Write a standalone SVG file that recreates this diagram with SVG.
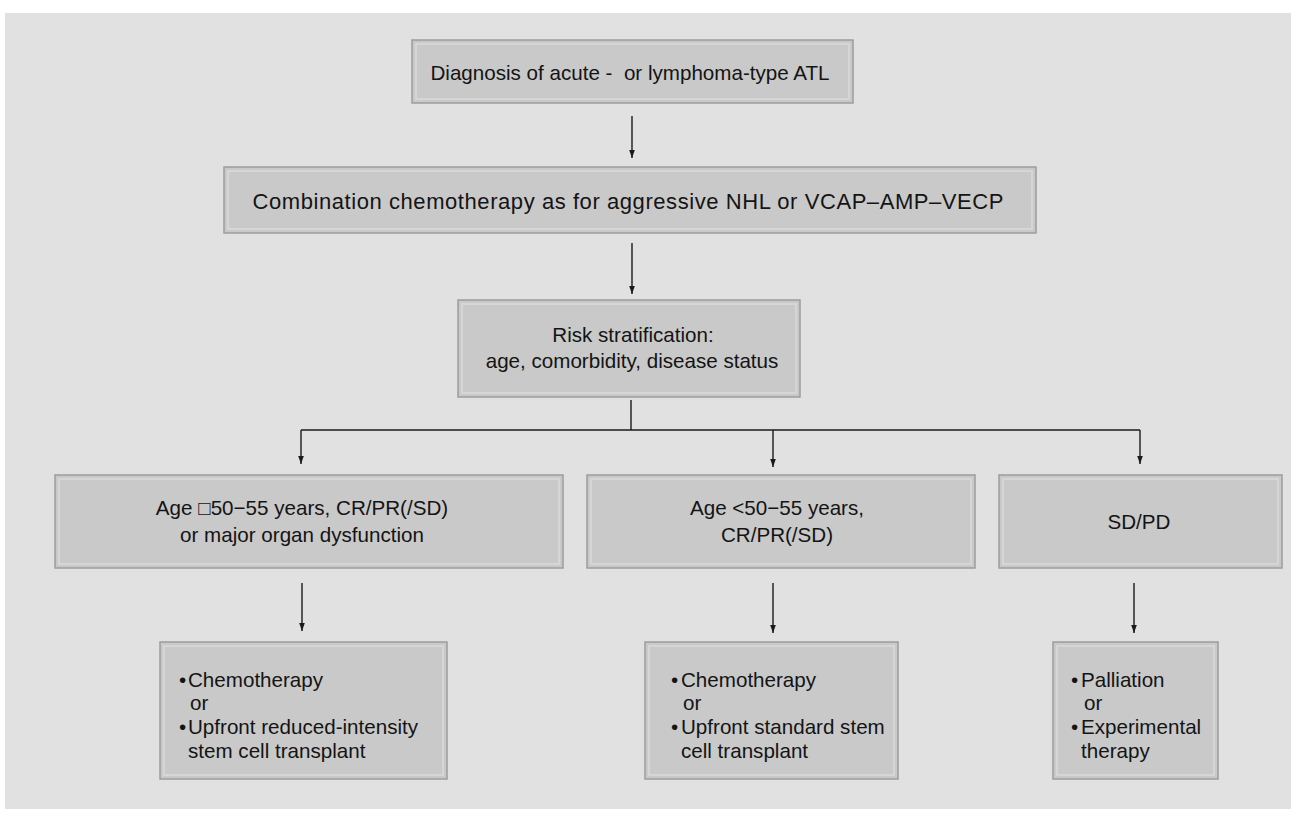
<svg xmlns="http://www.w3.org/2000/svg" width="1293" height="815" viewBox="0 0 1293 815">
  <style>
    .box { fill: #c9c9c9; stroke: #9c9c9c; stroke-width: 1.5; }
    .bevel { fill: none; stroke: #d6d6d6; stroke-width: 2; }
    .t { font-family: "Liberation Sans", Arial, Helvetica, sans-serif; font-size: 20.6px; fill: #141414; }
    .c { text-anchor: middle; }
    .conn { stroke: #1a1a1a; stroke-width: 1.4; fill: none; }
  </style>
  <defs>
    <marker id="arr" viewBox="0 0 10 10" refX="10" refY="5" markerWidth="8" markerHeight="8" markerUnits="userSpaceOnUse" orient="auto">
      <path d="M0,1.5 L10,5 L0,8.5 Z" fill="#1a1a1a"/>
    </marker>
  </defs>
  <rect x="0" y="0" width="1293" height="815" fill="#ffffff"/>
  <rect x="5" y="13" width="1286" height="796" fill="#e1e1e1"/>

  <g id="connectors">
    <line class="conn" x1="632" y1="116" x2="632" y2="158" marker-end="url(#arr)"/>
    <line class="conn" x1="632" y1="243" x2="632" y2="294" marker-end="url(#arr)"/>
    <polyline class="conn" points="631,400 631,430"/>
    <polyline class="conn" points="301,430 1140,430"/>
    <line class="conn" x1="301" y1="430" x2="301" y2="464" marker-end="url(#arr)"/>
    <line class="conn" x1="773" y1="430" x2="773" y2="467" marker-end="url(#arr)"/>
    <line class="conn" x1="1140" y1="430" x2="1140" y2="464" marker-end="url(#arr)"/>
    <line class="conn" x1="302" y1="583" x2="302" y2="631" marker-end="url(#arr)"/>
    <line class="conn" x1="773" y1="583" x2="773" y2="633" marker-end="url(#arr)"/>
    <line class="conn" x1="1134" y1="583" x2="1134" y2="633" marker-end="url(#arr)"/>
  </g>

  <g id="n1">
    <rect class="box" x="412" y="40" width="441" height="63"/>
    <rect class="bevel" x="416" y="44" width="433" height="55"/>
    <text class="t c" x="630" y="80">Diagnosis of acute -&#160; or lymphoma-type ATL</text>
  </g>

  <g id="n2">
    <rect class="box" x="224" y="167" width="812" height="66"/>
    <rect class="bevel" x="228" y="171" width="804" height="58"/>
    <text class="t c" x="628" y="209" style="font-size:22px" textLength="751" lengthAdjust="spacing">Combination chemotherapy as for aggressive NHL or VCAP–AMP–VECP</text>
  </g>

  <g id="n3">
    <rect class="box" x="458" y="300" width="342" height="97"/>
    <rect class="bevel" x="462" y="304" width="334" height="89"/>
    <text class="t c" x="633" y="342">Risk stratification:</text>
    <text class="t c" x="632" y="368">age, comorbidity, disease status</text>
  </g>

  <g id="n4a">
    <rect class="box" x="55" y="475" width="508" height="93"/>
    <rect class="bevel" x="59" y="479" width="500" height="85"/>
    <text class="t c" x="302" y="515">Age □50−55 years, CR/PR(/SD)</text>
    <text class="t c" x="302" y="542">or major organ dysfunction</text>
  </g>

  <g id="n4b">
    <rect class="box" x="587" y="475" width="388" height="93"/>
    <rect class="bevel" x="591" y="479" width="380" height="85"/>
    <text class="t c" x="777" y="515">Age &lt;50−55 years,</text>
    <text class="t c" x="777" y="542">CR/PR(/SD)</text>
  </g>

  <g id="n4c">
    <rect class="box" x="999" y="475" width="283" height="93"/>
    <rect class="bevel" x="1003" y="479" width="275" height="85"/>
    <text class="t c" x="1139" y="529">SD/PD</text>
  </g>

  <g id="n5a">
    <rect class="box" x="160" y="642" width="287" height="137"/>
    <rect class="bevel" x="164" y="646" width="279" height="129"/>
    <text class="t" x="179" y="687">•</text>
    <text class="t" x="188" y="687">Chemotherapy</text>
    <text class="t" x="190" y="710">or</text>
    <text class="t" x="179" y="734">•</text>
    <text class="t" x="188" y="734">Upfront reduced-intensity</text>
    <text class="t" x="188" y="758">stem cell transplant</text>
  </g>

  <g id="n5b">
    <rect class="box" x="645" y="642" width="253" height="137"/>
    <rect class="bevel" x="649" y="646" width="245" height="129"/>
    <text class="t" x="671" y="687">•</text>
    <text class="t" x="681" y="687">Chemotherapy</text>
    <text class="t" x="683" y="710">or</text>
    <text class="t" x="671" y="734">•</text>
    <text class="t" x="681" y="734">Upfront standard stem</text>
    <text class="t" x="681" y="758">cell transplant</text>
  </g>

  <g id="n5c">
    <rect class="box" x="1053" y="642" width="165" height="137"/>
    <rect class="bevel" x="1057" y="646" width="157" height="129"/>
    <text class="t" x="1071" y="687">•</text>
    <text class="t" x="1081" y="687">Palliation</text>
    <text class="t" x="1084" y="710">or</text>
    <text class="t" x="1071" y="734">•</text>
    <text class="t" x="1081" y="734">Experimental</text>
    <text class="t" x="1081" y="758">therapy</text>
  </g>
</svg>
